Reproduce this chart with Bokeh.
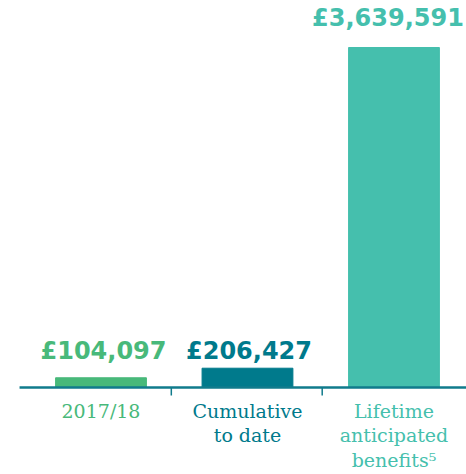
import numpy as np
from bokeh.plotting import figure
from bokeh.models import Range1d, ColumnDataSource
from bokeh.core.properties import value
from bokeh.embed import file_html
from bokeh.resources import INLINE

categories = ["2017/18", "Cumulative\nto date", "Lifetime\nanticipated\nbenefits\u2075"]
amounts = [104097, 206427, 3639591]
amount_labels = ["£104,097", "£206,427", "£3,639,591"]
colors = ["#48b97a", "#007a8c", "#45bfad"]

xs = np.arange(len(categories), dtype=float)
k = max(amounts) / 340.0  # data units per pixel

p = figure(width=466, height=474, x_range=Range1d(-0.686, 2.495),
           y_range=Range1d(-87 * k, 387 * k), x_axis_type=None, y_axis_type=None,
           toolbar_location=None, output_backend="svg", min_border=0)
p.outline_line_color = None
p.xgrid.visible = False
p.ygrid.visible = False
p.background_fill_color = "white"
p.border_fill_color = "white"

label_y = [37 * k if a < 40 * k else a + 30 * k for a in amounts]
label_dx = [2.5, 1.5, -6]
src = ColumnDataSource(dict(x=xs, top=amounts, color=colors, cat=categories,
                            lab=amount_labels, ly=label_y, dx=label_dx))

p.vbar(x="x", top="top", width=0.62, color="color", source=src)

axis_color = "#107b8c"
p.segment(x0=[-0.556], y0=[0], x1=[2.495], y1=[0], line_color=axis_color, line_width=2.5)
mids = [0.48, 1.51]
p.segment(x0=mids, y0=[0] * len(mids), x1=mids, y1=[-8 * k] * len(mids),
          line_color=axis_color, line_width=1.5)

p.text(x="x", y="ly", text="lab", source=src, text_color="color", x_offset="dx",
       text_align="center", text_baseline="alphabetic",
       text_font=value("DejaVu Sans"), text_font_style="bold", text_font_size="24px")

p.text(x="x", y=-12 * k, text="cat", source=src, text_color="color",
       text_align="center", text_baseline="top", text_line_height=1.13,
       text_font=value("DejaVu Serif"), text_font_size="19px")

open("out.html", "w").write(file_html(p, INLINE))
